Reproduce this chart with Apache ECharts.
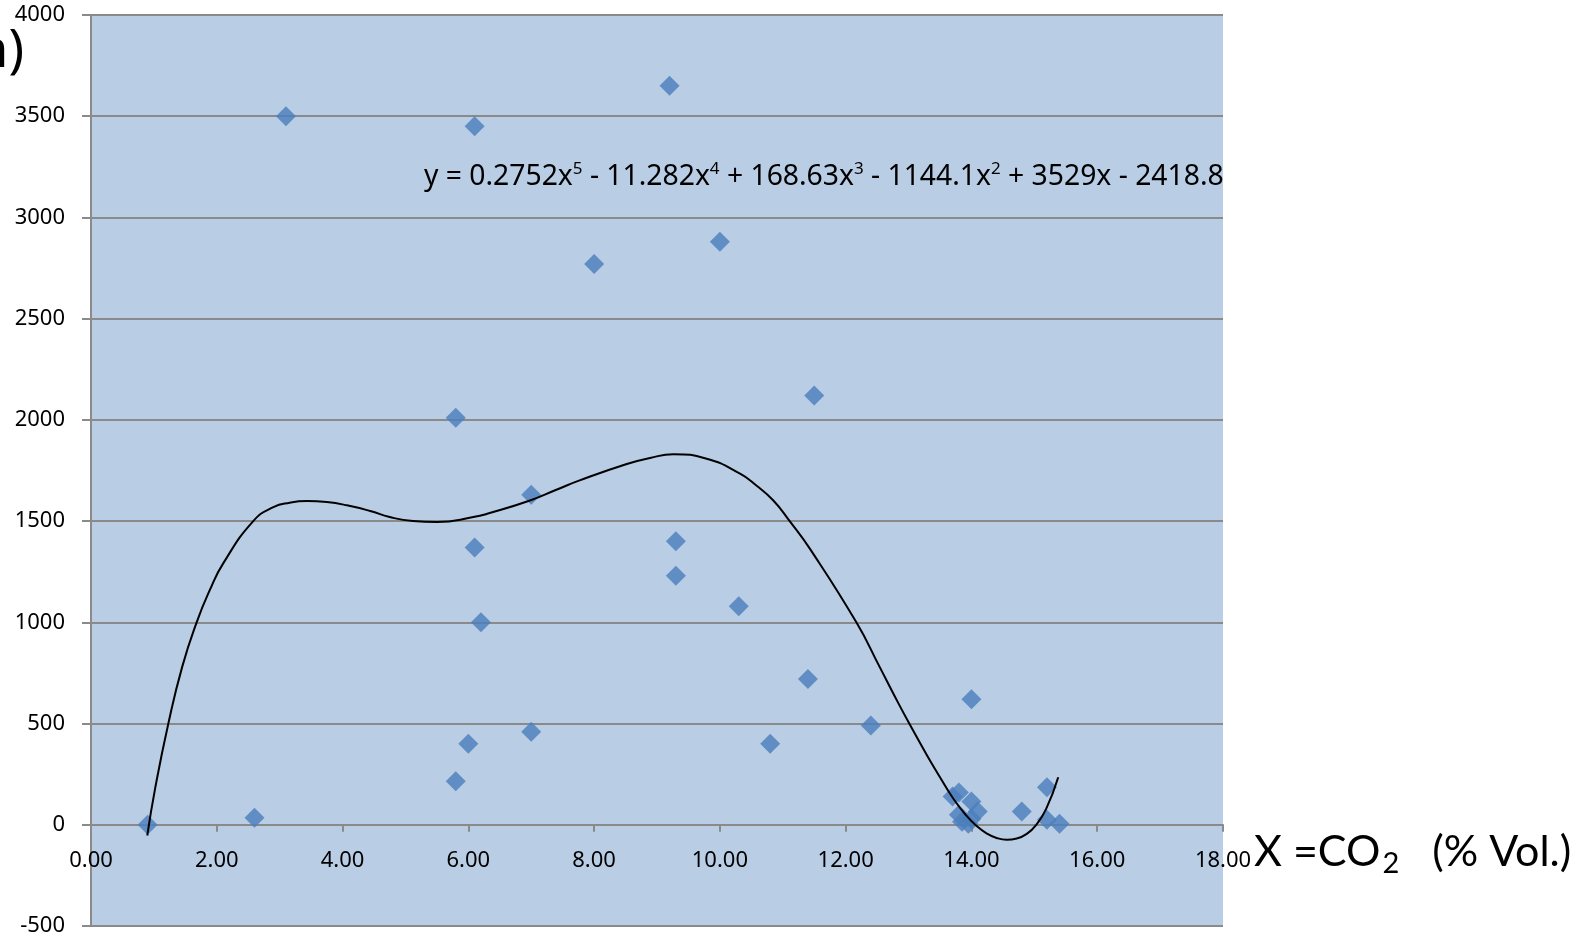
<!DOCTYPE html>
<html>
<head>
<meta charset="utf-8">
<script src="https://cdn.jsdelivr.net/npm/echarts@6/dist/echarts.min.js"></script>
<style>
  html, body { margin: 0; padding: 0; background: #fff; }
  #chart { width: 1586px; height: 938px; }
</style>
</head>
<body>
<div id="chart"></div>
<script>
// measured points (X = CO2 % vol, Y value)
const pointX = [0.9, 2.6, 3.1, 6.1, 9.2, 8.0, 10.0, 11.5, 5.8, 7.0, 9.3, 9.3, 6.1, 6.2, 10.3, 11.4, 12.4, 14.0, 10.8, 6.0, 7.0, 5.8,
  13.7, 13.8, 14.0, 14.1, 13.8, 13.85, 13.95, 14.0, 14.8, 15.2, 15.2, 15.4]
const pointY = [0, 35, 3500, 3450, 3650, 2770, 2880, 2120, 2010, 1630, 1400, 1230, 1370, 1000, 1080, 720, 490, 620, 400, 400, 460, 215,
  140, 160, 115, 65, 50, 15, 5, 30, 65, 185, 25, 5]

// polynomial trend line
const trendX = [0.895, 1.02, 1.23, 1.45, 1.68, 1.89, 2.1, 2.58, 2.9, 3.16, 3.43, 3.75, 4.07, 4.44, 4.75, 5.12, 5.5,
  6.08, 6.34, 6.98, 7.4, 7.77, 8.52, 8.89, 9.26, 9.79, 10.32, 10.58, 10.85, 11.11, 11.43, 12.17, 12.54, 12.78,
  13.02, 13.29, 13.5, 13.71, 13.92, 14.08, 14.24, 14.4, 14.56, 14.72, 14.88, 15.03, 15.19, 15.38]
const trendY = [-53, 180, 500, 780, 1000, 1160, 1290, 1500, 1569, 1591, 1599, 1594, 1578, 1550, 1520, 1500, 1495,
  1520, 1540, 1602, 1655, 1701, 1782, 1812, 1830, 1808, 1734, 1676, 1602, 1500, 1364, 1000, 780, 635,
  495, 345, 235, 130, 45, -5, -42, -65, -74, -68, -45, 0, 80, 235]

const equation = '{t|y = 0.2752x}{s|5}{t| - 11.282x}{s|4}{t| + 168.63x}{s|3}{t| - 1144.1x}{s|2}{t| + 3529x - 2418.8}'

const chart = echarts.init(document.getElementById('chart'))
const font = '"Noto Sans", "Liberation Sans", sans-serif'
const titleFont = 'Lato, "Noto Sans", sans-serif'
const gridColor = '#8a8a8a'

chart.setOption({
  animation: false,
  textStyle: { fontFamily: font },
  grid: {
    left: 91, right: 363, top: 15, bottom: 12,
    containLabel: false, outerBoundsMode: 'none',
    show: true, backgroundColor: '#b9cde5', borderWidth: 0
  },
  xAxis: {
    type: 'value', min: 0, max: 18, interval: 2,
    // axis crosses y at 0: lift it up one 500-step (911px / 9 steps)
    offset: -101.2,
    axisLine: { onZero: false, lineStyle: { color: gridColor, width: 2 } },
    axisTick: { show: true, length: 7, lineStyle: { color: gridColor, width: 2 } },
    axisLabel: {
      color: '#000', fontSize: 22, margin: 25, fontFamily: font,
      formatter: (v) => v.toFixed(2)
    },
    splitLine: { show: false }
  },
  yAxis: {
    type: 'value', min: -500, max: 4000, interval: 500,
    axisLine: { show: true, lineStyle: { color: gridColor, width: 2 } },
    axisTick: { show: true, length: 9, lineStyle: { color: gridColor, width: 2 } },
    axisLabel: { color: '#000', fontSize: 22, margin: 26, fontFamily: font, formatter: (v) => String(v) },
    splitLine: { show: true, lineStyle: { color: gridColor, width: 2 } }
  },
  series: [
    {
      type: 'scatter',
      symbol: 'diamond',
      symbolSize: 20,
      itemStyle: { color: '#4a7ebb' },
      data: pointX.map((x, i) => [x, pointY[i]]),
      z: 2
    },
    {
      type: 'line',
      smooth: 0.5,
      showSymbol: false,
      lineStyle: { color: '#000', width: 2 },
      data: trendX.map((x, i) => [x, trendY[i]]),
      z: 3
    }
  ],
  graphic: [
    {
      type: 'text', left: 424, top: 161, z: 10,
      style: {
        text: equation,
        fill: '#000',
        rich: {
          t: { fontSize: 28.3, fontFamily: font, fill: '#000' },
          s: { fontSize: 17, fontFamily: font, fill: '#000', padding: [0, 0, 14, 0] }
        }
      }
    },
    {
      type: 'text', left: 1254, top: 831, z: 10,
      style: {
        text: '{a|X =CO}{b|2}{a|   (% Vol.)}',
        rich: {
          a: { fontSize: 43, fontFamily: titleFont, fill: '#000' },
          b: { fontSize: 29, fontFamily: titleFont, fill: '#000', padding: [22, 0, 0, 2] }
        }
      }
    },
    {
      type: 'text', right: 1562, top: 26, z: 10,
      style: { text: 'n)', fontSize: 52, fontFamily: font, fill: '#000' }
    }
  ]
})
</script>
</body>
</html>
